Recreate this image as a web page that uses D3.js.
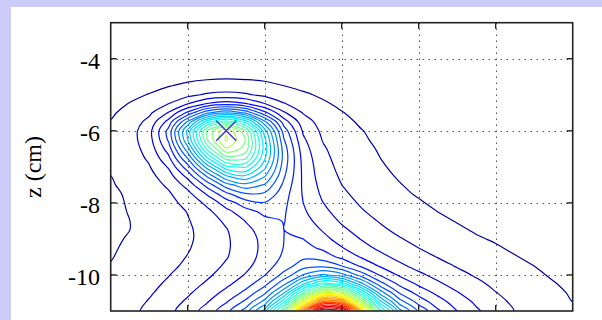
<!DOCTYPE html>
<html>
<head>
<meta charset="utf-8">
<script src="https://cdn.jsdelivr.net/npm/d3@7"></script>
<style>
  html, body { margin: 0; padding: 0; background: #ccccfa; }
  svg { display: block; }
  .tick-label { font-family: "Liberation Serif", "Times New Roman", serif; font-size: 24px; fill: #000; }
</style>
</head>
<body>
<svg id="chart" width="602" height="320"></svg>
<script>
// axis ticks and label
const xTicks = [-2, -1, 0, 1, 2];
const zTicks = [-10, -8, -6, -4];
const yLabel = "z (cm)";

// contour levels (thousandths of the peak)
const levels = [30, 60, 90, 120, 150, 180, 210, 240, 270, 300, 330, 360, 390, 420, 450, 480,
                510, 540, 570, 600, 630, 660, 690, 720, 750, 780, 810, 840, 870, 900, 930, 960];

// the "x" marker on the upper maximum
const markerX = [-1.5];
const markerZ = [-6.0];

// field, in thousandths, on a 0.25 cm grid:
// columns x = -3 .. 3, rows z = -3 (top) .. -11 (bottom)
const gridX0 = -3, gridZ0 = -3, gridStep = 0.25;
const fieldRows = [
  [1, 2, 2, 2, 2, 2, 3, 2, 2, 2, 2, 2, 2, 1, 1, 1, 1, 1, 1, 1, 1, 1, 1, 1, 0],
  [2, 2, 3, 3, 4, 4, 4, 4, 3, 3, 3, 2, 2, 2, 1, 1, 1, 1, 1, 1, 1, 1, 1, 1, 1],
  [3, 4, 4, 5, 5, 6, 6, 6, 6, 5, 5, 4, 3, 3, 2, 2, 2, 1, 1, 1, 1, 1, 1, 1, 1],
  [4, 5, 6, 7, 8, 9, 9, 9, 8, 8, 7, 6, 5, 4, 3, 3, 2, 2, 2, 1, 1, 1, 1, 1, 1],
  [6, 8, 9, 11, 12, 13, 13, 13, 12, 11, 10, 8, 7, 6, 4, 4, 3, 2, 2, 2, 1, 1, 1, 1, 1],
  [9, 11, 13, 15, 17, 19, 19, 19, 18, 16, 14, 12, 10, 8, 6, 5, 4, 3, 2, 2, 2, 1, 1, 1, 1],
  [12, 15, 18, 21, 24, 26, 27, 26, 25, 22, 19, 16, 13, 10, 8, 6, 5, 4, 3, 2, 2, 2, 1, 1, 1],
  [15, 19, 24, 29, 34, 38, 40, 39, 35, 30, 25, 21, 17, 13, 10, 8, 6, 5, 4, 3, 3, 2, 2, 2, 1],
  [19, 25, 31, 40, 52, 64, 69, 64, 53, 42, 33, 27, 21, 17, 13, 10, 7, 6, 4, 4, 3, 3, 2, 2, 2],
  [23, 31, 41, 60, 89, 122, 137, 123, 91, 62, 44, 33, 26, 20, 15, 12, 9, 7, 5, 4, 4, 3, 3, 2, 2],
  [27, 37, 54, 92, 157, 233, 268, 234, 159, 94, 58, 40, 31, 24, 18, 14, 10, 8, 6, 5, 4, 3, 3, 3, 2],
  [31, 43, 69, 131, 245, 378, 440, 379, 248, 135, 74, 48, 36, 27, 21, 16, 12, 9, 7, 6, 5, 4, 3, 3, 3],
  [33, 47, 80, 159, 308, 483, 565, 486, 313, 165, 86, 54, 40, 31, 24, 18, 14, 11, 8, 7, 6, 5, 4, 3, 3],
  [34, 48, 78, 154, 299, 478, 575, 509, 338, 182, 95, 59, 43, 33, 26, 20, 15, 12, 10, 8, 6, 5, 5, 4, 4],
  [34, 46, 72, 134, 259, 427, 536, 499, 347, 195, 103, 64, 46, 36, 28, 22, 17, 13, 11, 9, 7, 6, 5, 5, 4],
  [33, 44, 65, 113, 213, 357, 467, 458, 336, 198, 109, 68, 49, 38, 30, 24, 19, 15, 12, 10, 8, 7, 6, 5, 5],
  [32, 41, 58, 93, 168, 282, 383, 396, 309, 193, 112, 72, 52, 41, 32, 26, 21, 17, 14, 11, 10, 8, 7, 6, 5],
  [30, 38, 51, 77, 130, 215, 299, 327, 274, 184, 114, 75, 56, 44, 35, 28, 23, 19, 15, 13, 11, 9, 8, 7, 6],
  [28, 36, 46, 65, 101, 161, 227, 261, 237, 173, 115, 80, 60, 47, 38, 31, 25, 21, 17, 15, 12, 11, 9, 8, 7],
  [26, 33, 42, 56, 81, 123, 172, 207, 205, 163, 117, 85, 65, 52, 42, 34, 28, 23, 20, 17, 14, 12, 11, 9, 8],
  [25, 32, 40, 51, 69, 97, 134, 166, 178, 157, 120, 91, 71, 57, 46, 38, 32, 26, 22, 19, 16, 14, 12, 10, 9],
  [25, 31, 38, 47, 61, 82, 110, 138, 157, 153, 125, 98, 78, 63, 51, 43, 36, 30, 25, 22, 18, 16, 14, 12, 10],
  [25, 30, 37, 46, 58, 74, 96, 121, 143, 151, 132, 107, 86, 70, 58, 48, 40, 34, 29, 25, 21, 18, 16, 14, 12],
  [25, 30, 37, 46, 56, 70, 88, 111, 134, 150, 141, 118, 96, 79, 65, 54, 46, 39, 33, 28, 24, 21, 18, 15, 13],
  [26, 32, 38, 46, 56, 69, 86, 106, 129, 150, 150, 130, 107, 89, 74, 62, 52, 44, 38, 32, 28, 24, 20, 17, 15],
  [28, 33, 40, 48, 58, 70, 86, 105, 128, 151, 160, 145, 122, 101, 84, 71, 60, 51, 43, 37, 32, 27, 23, 20, 17],
  [29, 35, 42, 51, 61, 73, 88, 107, 130, 155, 174, 166, 143, 118, 98, 82, 69, 59, 50, 43, 36, 31, 26, 22, 19],
  [31, 38, 45, 54, 65, 78, 94, 112, 136, 165, 196, 202, 180, 146, 117, 96, 81, 69, 58, 49, 42, 35, 30, 25, 21],
  [34, 41, 49, 59, 71, 85, 102, 122, 149, 189, 242, 275, 252, 197, 147, 116, 96, 81, 68, 57, 48, 40, 33, 28, 23],
  [36, 44, 53, 64, 78, 94, 113, 137, 171, 232, 327, 404, 380, 283, 193, 143, 115, 95, 79, 66, 54, 45, 37, 31, 26],
  [39, 47, 57, 70, 86, 105, 129, 158, 205, 299, 453, 586, 560, 405, 259, 179, 139, 113, 92, 75, 61, 50, 41, 34, 28],
  [41, 50, 62, 77, 95, 118, 148, 187, 253, 384, 602, 789, 760, 546, 341, 226, 169, 133, 106, 85, 68, 55, 45, 36, 30],
  [43, 53, 66, 82, 104, 132, 169, 222, 311, 484, 762, 998, 965, 697, 434, 282, 203, 155, 120, 94, 75, 59, 48, 39, 31]
];
const nx = fieldRows[0].length, nz = fieldRows.length;
const values = fieldRows.flat();

const svg = d3.select("#chart");
const W = 602, H = 320;
svg.append("rect").attr("width", W).attr("height", H).attr("fill", "#ccccfa");
svg.append("rect").attr("x", 11).attr("y", 7).attr("width", W - 11).attr("height", H - 7).attr("fill", "#fff");

const x = d3.scaleLinear().domain([-3, 3]).range([110.7, 572.7]);
const y = d3.scaleLinear().domain([-11, -3]).range([311, 22.7]);

// matlab "jet"
const jet = d3.scaleLinear()
  .domain([0, 0.125, 0.375, 0.625, 0.875, 1])
  .range(["#00007f", "#0000ff", "#00ffff", "#ffff00", "#ff0000", "#7f0000"]);
const vmax = d3.max(values);
const color = v => jet(v / vmax);

svg.append("defs").append("clipPath").attr("id", "plot-clip")
  .append("rect").attr("x", x(-3)).attr("y", y(-3)).attr("width", x(3) - x(-3)).attr("height", y(-11) - y(-3));

// dotted grid
const grid = svg.append("g").attr("stroke", "#000").attr("stroke-width", 1).attr("stroke-dasharray", "1,5");
grid.selectAll(".gx").data(xTicks).join("line")
  .attr("x1", d => Math.round(x(d)) + 0.5).attr("x2", d => Math.round(x(d)) + 0.5)
  .attr("y1", y(-3)).attr("y2", y(-11));
grid.selectAll(".gz").data(zTicks).join("line")
  .attr("y1", d => Math.round(y(d)) + 0.5).attr("y2", d => Math.round(y(d)) + 0.5)
  .attr("x1", x(-3)).attr("x2", x(3));

// contour lines
const contours = d3.contours().size([nx, nz]).thresholds(levels)(values);
const ringLine = d3.line().curve(d3.curveCatmullRomClosed.alpha(0.5));
const gx = cx => x(gridX0 + (cx - 0.5) * gridStep);
const gz = cy => y(gridZ0 - (cy - 0.5) * gridStep);
const contourPath = c => c.coordinates.map(poly => poly.map(ring =>
  ringLine(ring.slice(0, -1).map(([cx, cy]) => [gx(cx), gz(cy)]))).join("")).join("");

svg.append("g").attr("clip-path", "url(#plot-clip)")
  .selectAll("path").data(contours).join("path")
  .attr("d", contourPath)
  .attr("fill", "none")
  .attr("stroke", d => color(d.value))
  .attr("stroke-width", 1.2);

// marker
svg.append("g").selectAll("path").data(markerX).join("path")
  .attr("d", (d, i) => {
    const cx = x(d), cy = y(markerZ[i]), r = 10;
    return `M${cx - r},${cy - r}L${cx + r},${cy + r}M${cx - r},${cy + r}L${cx + r},${cy - r}`;
  })
  .attr("stroke", "#3838c8").attr("stroke-width", 1.4).attr("fill", "none");

// box + ticks
svg.append("rect").attr("x", x(-3)).attr("y", y(-3)).attr("width", x(3) - x(-3)).attr("height", y(-11) - y(-3))
  .attr("fill", "none").attr("stroke", "#222").attr("stroke-width", 1.6);
const ticks = svg.append("g").attr("stroke", "#222").attr("stroke-width", 1.4);
xTicks.forEach(d => {
  ticks.append("line").attr("x1", x(d)).attr("x2", x(d)).attr("y1", y(-3)).attr("y2", y(-3) + 6);
  ticks.append("line").attr("x1", x(d)).attr("x2", x(d)).attr("y1", y(-11)).attr("y2", y(-11) - 6);
});
zTicks.forEach(d => {
  ticks.append("line").attr("y1", y(d)).attr("y2", y(d)).attr("x1", x(-3)).attr("x2", x(-3) + 6);
  ticks.append("line").attr("y1", y(d)).attr("y2", y(d)).attr("x1", x(3)).attr("x2", x(3) - 6);
});

svg.append("g").selectAll("text").data(zTicks).join("text")
  .attr("class", "tick-label")
  .attr("x", 100).attr("y", d => y(d) + 10)
  .attr("text-anchor", "end")
  .text(d => d);

svg.append("text").attr("class", "tick-label")
  .attr("transform", "translate(41,167) rotate(-90)")
  .attr("text-anchor", "middle")
  .text(yLabel);
</script>
</body>
</html>
